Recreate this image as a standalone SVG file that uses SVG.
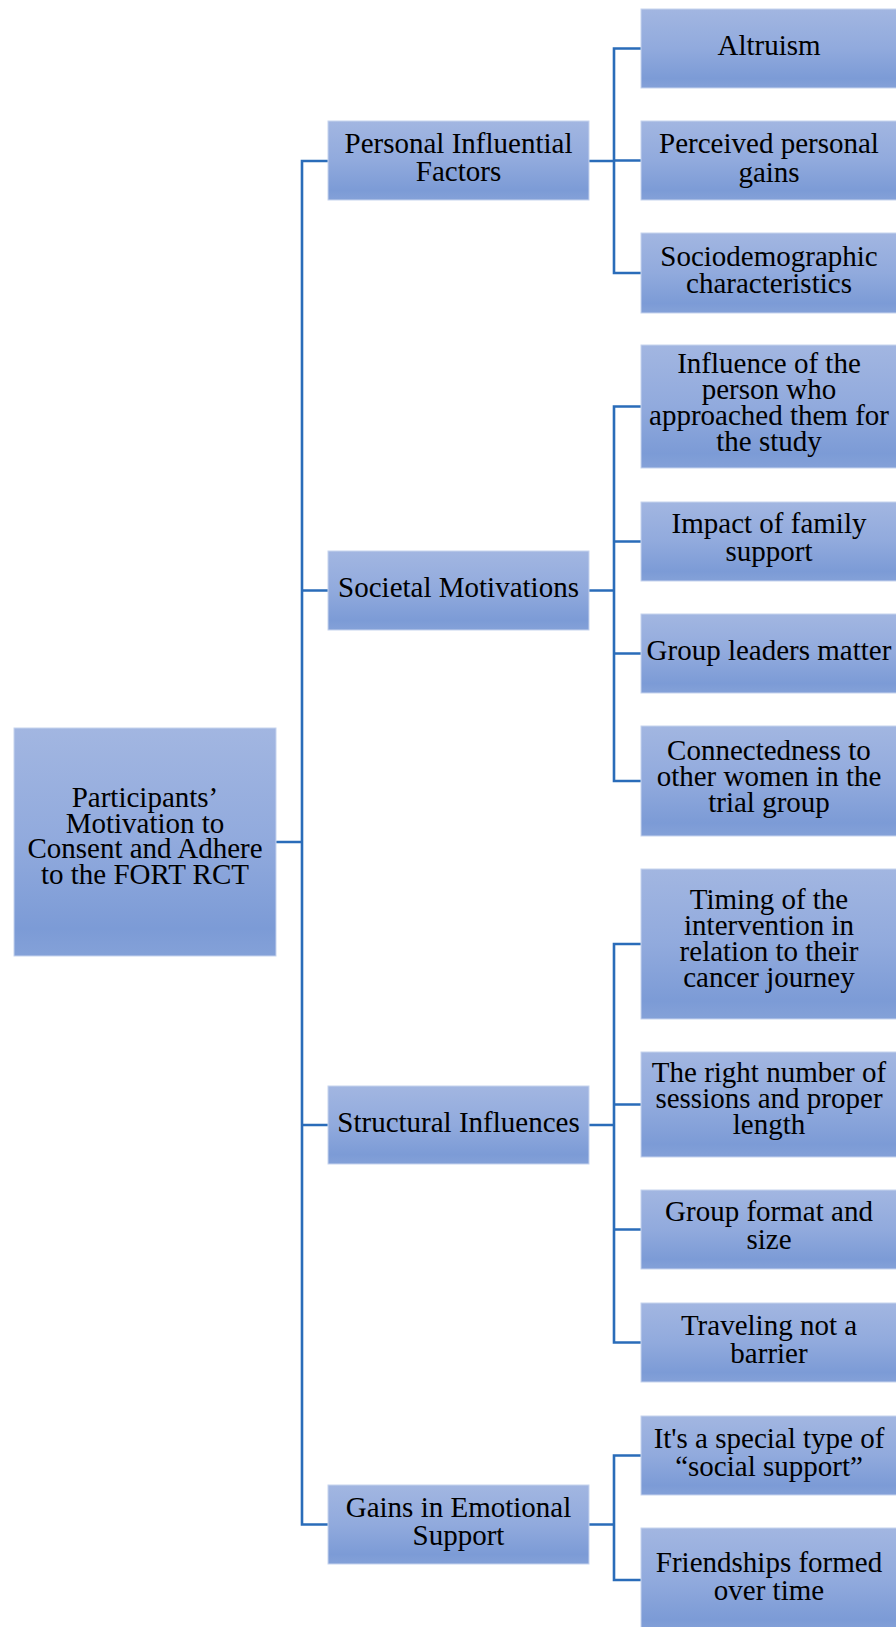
<svg xmlns="http://www.w3.org/2000/svg" width="896" height="1627" viewBox="0 0 896 1627">
<style>
.box{fill:url(#g);stroke:#c6d3ee;stroke-width:1}
.t{font-family:"Liberation Serif","Times New Roman",serif;font-size:29px;fill:#000;text-anchor:middle}
.c{fill:none;stroke:#2a6cb9;stroke-width:2.6;stroke-linejoin:miter;stroke-linecap:butt}
</style>
<defs>
<linearGradient id="g" x1="0" y1="0" x2="0" y2="1">
<stop offset="0" stop-color="#a2b6e1"/>
<stop offset="0.5" stop-color="#91aadd"/>
<stop offset="0.88" stop-color="#7c9bd6"/>
<stop offset="1" stop-color="#84a1d8"/>
</linearGradient>
</defs>
<rect width="896" height="1627" fill="#fff"/>
<g id="connectors">
<path class="c" d="M276 842H302M328 161H302V1524.5H328M302 590.5H328M302 1125H328"/>
<path class="c" d="M589 161H614M641 48.5H614V273H641M614 160.5H641"/>
<path class="c" d="M589 590.5H614M641 406.5H614V781H641M614 541.5H641M614 653.5H641"/>
<path class="c" d="M589 1125H614M641 944H614V1342.5H641M614 1104.5H641M614 1229.5H641"/>
<path class="c" d="M589 1524.5H614M641 1455.5H614V1580H641"/>
</g>
<g id="root"><rect class="box" x="14" y="728" width="262" height="228"/>
<text class="t"><tspan x="145" y="807">Participants’</tspan><tspan x="145" y="832.5">Motivation to</tspan><tspan x="145" y="858">Consent and Adhere</tspan><tspan x="145" y="883.5">to the FORT RCT</tspan></text></g>
<g id="personal"><rect class="box" x="328" y="121" width="261" height="79"/>
<text class="t"><tspan x="458.5" y="153">Personal Influential</tspan><tspan x="458.5" y="181">Factors</tspan></text></g>
<g id="societal"><rect class="box" x="328" y="551" width="261" height="79"/>
<text class="t" x="458.5" y="597">Societal Motivations</text></g>
<g id="structural"><rect class="box" x="328" y="1086" width="261" height="78"/>
<text class="t" x="458.5" y="1131.5">Structural Influences</text></g>
<g id="gains"><rect class="box" x="328" y="1485" width="261" height="79"/>
<text class="t"><tspan x="458.5" y="1516.5">Gains in Emotional</tspan><tspan x="458.5" y="1544.5">Support</tspan></text></g>
<g id="altruism"><rect class="box" x="641" y="9" width="258" height="79"/>
<text class="t" x="769" y="55">Altruism</text></g>
<g id="perceived"><rect class="box" x="641" y="121" width="258" height="79"/>
<text class="t"><tspan x="769" y="153.3">Perceived personal</tspan><tspan x="769" y="181.5">gains</tspan></text></g>
<g id="sociodemographic"><rect class="box" x="641" y="233" width="258" height="80"/>
<text class="t"><tspan x="769" y="266">Sociodemographic</tspan><tspan x="769" y="293">characteristics</tspan></text></g>
<g id="influence"><rect class="box" x="641" y="345" width="258" height="123"/>
<text class="t"><tspan x="769" y="372.5">Influence of the</tspan><tspan x="769" y="398.8">person who</tspan><tspan x="769" y="425.1">approached them for</tspan><tspan x="769" y="451.4">the study</tspan></text></g>
<g id="family"><rect class="box" x="641" y="502" width="258" height="79"/>
<text class="t"><tspan x="769" y="532.5">Impact of family</tspan><tspan x="769" y="560.5">support</tspan></text></g>
<g id="leaders"><rect class="box" x="641" y="614" width="258" height="79"/>
<text class="t" x="769" y="660">Group leaders matter</text></g>
<g id="connectedness"><rect class="box" x="641" y="726" width="258" height="110"/>
<text class="t"><tspan x="769" y="759.5">Connectedness to</tspan><tspan x="769" y="785.5">other women in the</tspan><tspan x="769" y="811.5">trial group</tspan></text></g>
<g id="timing"><rect class="box" x="641" y="869" width="258" height="150"/>
<text class="t"><tspan x="769" y="908.7">Timing of the</tspan><tspan x="769" y="934.7">intervention in</tspan><tspan x="769" y="960.7">relation to their</tspan><tspan x="769" y="986.7">cancer journey</tspan></text></g>
<g id="sessions"><rect class="box" x="641" y="1052" width="258" height="105"/>
<text class="t"><tspan x="769" y="1082">The right number of</tspan><tspan x="769" y="1108">sessions and proper</tspan><tspan x="769" y="1134">length</tspan></text></g>
<g id="format"><rect class="box" x="641" y="1190" width="258" height="79"/>
<text class="t"><tspan x="769" y="1221">Group format and</tspan><tspan x="769" y="1249">size</tspan></text></g>
<g id="traveling"><rect class="box" x="641" y="1303" width="258" height="79"/>
<text class="t"><tspan x="769" y="1334.5">Traveling not a</tspan><tspan x="769" y="1362.5">barrier</tspan></text></g>
<g id="special"><rect class="box" x="641" y="1416" width="258" height="79"/>
<text class="t"><tspan x="769" y="1447.5">It's a special type of</tspan><tspan x="769" y="1475.5">“social support”</tspan></text></g>
<g id="friendships"><rect class="box" x="641" y="1528" width="258" height="104"/>
<text class="t"><tspan x="769" y="1572">Friendships formed</tspan><tspan x="769" y="1600">over time</tspan></text></g>
</svg>
